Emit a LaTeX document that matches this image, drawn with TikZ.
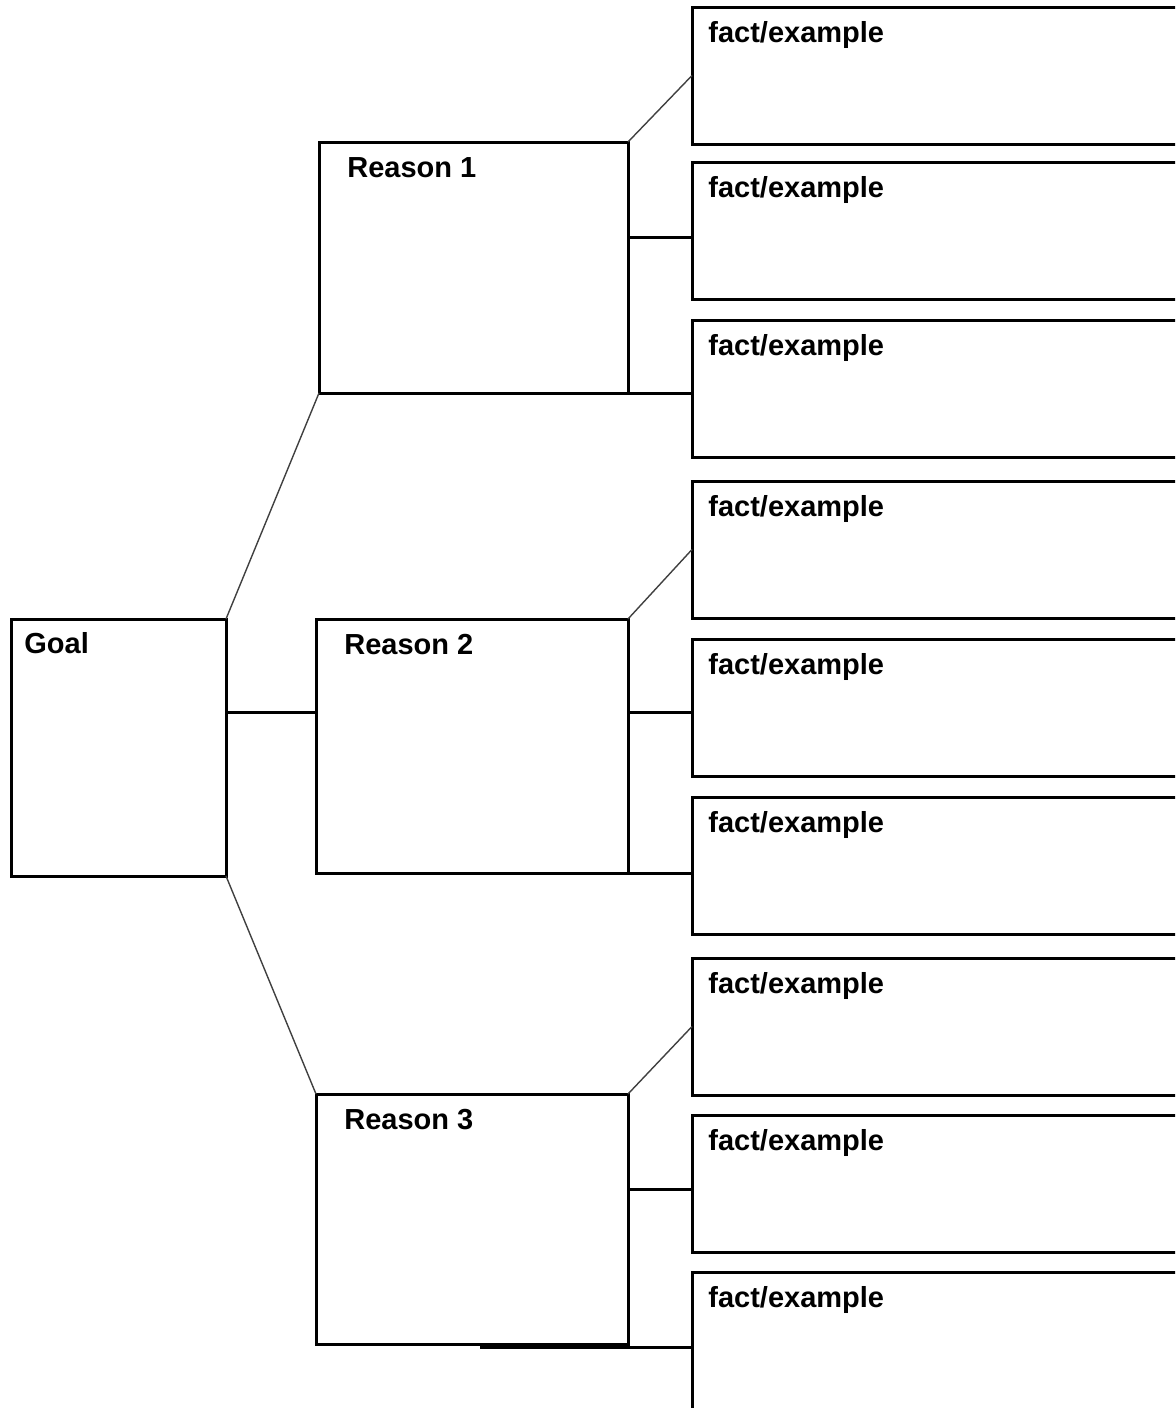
\documentclass[tikz,border=0pt]{standalone}
\usepackage{fontspec}
\setmainfont{Liberation Sans}
\usetikzlibrary{positioning}

\newcommand{\pxu}{0.5pt}
\tikzset{
    box/.style = {draw, line width=1.5pt, anchor=north west, inner sep=0pt, outer sep=0pt},
    boxlabel/.style = {anchor=base west, inner sep=0pt,
        font=\fontsize{14.5}{16}\selectfont\bfseries},
    branch/.style = {draw=black!75, line width=0.7pt},
    stem/.style = {draw, line width=1.5pt}
}

\begin{document}
\begin{tikzpicture}[x=0.5pt, y=-0.5pt]
    \useasboundingbox (0, 0) rectangle (1175, 1408);
    \clip (0, 0) rectangle (1175, 1408);

    % goal and reasons
    \node[box, minimum width=215*\pxu, minimum height=257*\pxu] (goal) at (11, 619) {};
    \node[box, minimum width=309*\pxu, minimum height=251*\pxu] (r1) at (319, 142) {};
    \node[box, minimum width=312*\pxu, minimum height=254*\pxu] (r2) at (316, 619) {};
    \node[box, minimum width=312*\pxu, minimum height=250*\pxu] (r3) at (316, 1094) {};

    \node[boxlabel] (goaltext) at ([xshift=13*\pxu, yshift=-34*\pxu]goal.north west) {Goal};
    \foreach \i in {1, 2, 3}
        \node[boxlabel] (r\i text) at ([xshift=28*\pxu, yshift=-35*\pxu]r\i.north west) {Reason \i};

    % facts
    \foreach \i/\top in {1/7, 2/162, 3/320, 4/481, 5/639, 6/797, 7/958, 8/1115, 9/1272} {
        \node[box, minimum width=520*\pxu, minimum height=137*\pxu] (f\i) at (692, \top) {};
        \node[boxlabel] (f\i text) at ([xshift=16*\pxu, yshift=-35*\pxu]f\i.north west) {fact/example};
    }

    % goal to reasons
    \draw[branch] (goal.north east) -- (r1.south west);
    \coordinate (g2) at ([yshift=-93*\pxu]goal.north east);
    \draw[stem] (g2) -- (g2 -| r2.west);
    \draw[branch] (goal.south east) -- (r3.north west);

    % reason 1 to facts
    \draw[branch] (r1.north east) -- (f1.west);
    \coordinate (r1m) at ([yshift=-95*\pxu]r1.north east);
    \draw[stem] (r1m) -- (r1m -| f2.west);
    \draw[stem] (r1.south east) -- (r1.south east -| f3.west);

    % reason 2 to facts
    \draw[branch] (r2.north east) -- (f4.west);
    \coordinate (r2m) at ([yshift=-93*\pxu]r2.north east);
    \draw[stem] (r2m) -- (r2m -| f5.west);
    \draw[stem] (r2.south east) -- (r2.south east -| f6.west);

    % reason 3 to facts
    \draw[branch] (r3.north east) -- (f7.west);
    \coordinate (r3m) at ([yshift=-95*\pxu]r3.north east);
    \draw[stem] (r3m) -- (r3m -| f8.west);
    \coordinate (r3b) at (480, 1347);
    \draw[stem] (r3b) -- (r3b -| f9.west);
\end{tikzpicture}
\end{document}
